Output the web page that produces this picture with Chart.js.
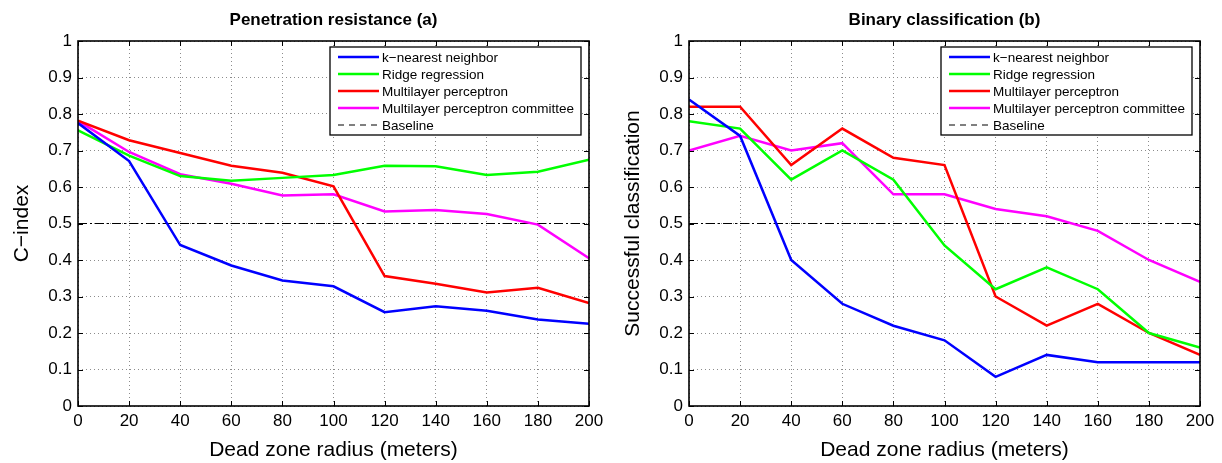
<!DOCTYPE html>
<html><head><meta charset="utf-8">
<script src="https://cdn.jsdelivr.net/npm/chart.js@4"></script>
<style>
html,body{margin:0;padding:0;background:#fff;}
#wrap{display:flex;width:1222px;height:463px;}
.p{width:611px;height:463px;position:relative;}
</style></head><body>
<div id="wrap"><div class="p"><canvas id="c1" width="611" height="463"></canvas></div><div class="p"><canvas id="c2" width="611" height="463"></canvas></div></div>
<script>
const radii = [0,20,40,60,80,100,120,140,160,180,200];
const seriesNames = ["k\u2212nearest neighbor","Ridge regression","Multilayer perceptron","Multilayer perceptron committee"];
const seriesColors = ["#0000ff","#00ff00","#ff0000","#ff00ff"];
const baselineValue = 0.5;
const yTicks = [0,0.1,0.2,0.3,0.4,0.5,0.6,0.7,0.8,0.9,1];

// Panel (a) C-index
const aKnn   = [0.775,0.671,0.441,0.385,0.344,0.328,0.257,0.273,0.261,0.237,0.225];
const aRidge = [0.755,0.686,0.630,0.617,0.625,0.633,0.658,0.657,0.633,0.642,0.675];
const aMlp   = [0.782,0.728,0.693,0.658,0.639,0.602,0.356,0.335,0.311,0.324,0.282];
const aMlpc  = [0.781,0.696,0.635,0.609,0.577,0.580,0.533,0.537,0.526,0.497,0.405];

// Panel (b) Successful classification
const bKnn   = [0.84,0.74,0.40,0.28,0.22,0.18,0.08,0.14,0.12,0.12,0.12];
const bRidge = [0.78,0.76,0.62,0.70,0.62,0.44,0.32,0.38,0.32,0.20,0.16];
const bMlp   = [0.82,0.82,0.66,0.76,0.68,0.66,0.30,0.22,0.28,0.20,0.14];
const bMlpc  = [0.70,0.74,0.70,0.72,0.58,0.58,0.54,0.52,0.48,0.40,0.34];

const FONT = "'Liberation Sans', Arial, Helvetica, sans-serif";

const framePlugin = {
  id:'frame',
  afterDraw(chart, args, opts){
    const ctx = chart.ctx, a = chart.chartArea;
    const xs = chart.scales.x, ys = chart.scales.y;
    ctx.save();
    ctx.strokeStyle = '#000'; ctx.lineWidth = 1;
    radii.forEach(v=>{
      const px = Math.round(xs.getPixelForValue(v))+0.5;
      ctx.beginPath(); ctx.moveTo(px,a.bottom); ctx.lineTo(px,a.bottom-5);
      ctx.moveTo(px,a.top); ctx.lineTo(px,a.top+5); ctx.stroke();
    });
    yTicks.forEach(v=>{
      const py = Math.round(ys.getPixelForValue(v))+0.5;
      ctx.beginPath(); ctx.moveTo(a.left,py); ctx.lineTo(a.left+5,py);
      ctx.moveTo(a.right,py); ctx.lineTo(a.right-5,py); ctx.stroke();
    });
    ctx.lineWidth = 1.6;
    ctx.strokeRect(a.left, a.top, a.right-a.left, a.bottom-a.top);
    // title
    ctx.fillStyle = '#000';
    ctx.font = "bold 17px " + FONT;
    ctx.textAlign = 'center'; ctx.textBaseline = 'middle';
    ctx.fillText(opts.title, (a.left+a.right)/2, 20);
    // legend
    const ds = chart.data.datasets;
    const bw = 251, bh = 88;
    const bx = a.right - 8 - bw, by = a.top + 6;
    ctx.fillStyle = '#fff';
    ctx.fillRect(bx,by,bw,bh);
    ctx.lineWidth = 1.3; ctx.strokeStyle = '#000';
    ctx.strokeRect(bx,by,bw,bh);
    ctx.font = "13.5px " + FONT;
    ctx.textAlign = 'left';
    ds.forEach((d,i)=>{
      const y = by + 10 + i*17;
      ctx.beginPath();
      ctx.strokeStyle = d.borderColor;
      ctx.lineWidth = d.label==='Baseline' ? 1 : 2.5;
      ctx.setLineDash(d.label==='Baseline' ? [6,5] : []);
      ctx.moveTo(bx+8,y); ctx.lineTo(bx+49,y); ctx.stroke();
      ctx.setLineDash([]);
      ctx.fillStyle = '#000';
      ctx.fillText(d.label, bx+52, y+1);
    });
    ctx.restore();
  }
};

function makeChart(id, title, ylabel, vals){
  const datasets = vals.map((v,i)=>({
    label: seriesNames[i],
    data: radii.map((r,j)=>({x:r,y:v[j]})),
    borderColor: seriesColors[i], backgroundColor: seriesColors[i],
    borderWidth: 2.5, pointRadius: 0, tension: 0, order: 1
  }));
  datasets.push({
    label:'Baseline',
    data: [{x:radii[0],y:baselineValue},{x:radii[radii.length-1],y:baselineValue}],
    borderColor:'#000', backgroundColor:'#000', borderWidth:1,
    borderDash:[9,3,2,3], pointRadius:0, order: 5
  });
  new Chart(document.getElementById(id), {
    type:'line',
    data:{datasets},
    options:{
      responsive:false, animation:false,
      layout:{padding:{top:41,right:22,left:0,bottom:0}},
      plugins:{legend:{display:false}, tooltip:{enabled:false}, frame:{title}},
      scales:{
        x:{type:'linear', min:0, max:200,
          afterBuildTicks(s){ s.ticks = radii.map(v=>({value:v})); },
          afterFit(s){ s.height = 57; },
          grid:{color:'#8c8c8c', lineWidth:1, drawTicks:false},
          border:{display:false, dash:[1,3]},
          ticks:{color:'#000', font:{family:FONT,size:17}, padding:5, maxRotation:0},
          title:{display:true, text:'Dead zone radius (meters)', color:'#000', font:{family:FONT,size:21}, padding:{top:4,bottom:0}}
        },
        y:{min:0, max:1,
          afterBuildTicks(s){ s.ticks = yTicks.map(v=>({value:v})); },
          afterFit(s){ s.width = 78; },
          grid:{color:'#8c8c8c', lineWidth:1, drawTicks:false},
          border:{display:false, dash:[1,3]},
          ticks:{color:'#000', font:{family:FONT,size:17}, padding:6, callback:v=>String(Math.round(v*10)/10)},
          title:{display:true, text:ylabel, color:'#000', font:{family:FONT,size:21}, padding:{top:10,bottom:0}}
        }
      }
    },
    plugins:[framePlugin]
  });
}
makeChart('c1','Penetration resistance (a)','C\u2212index',[aKnn,aRidge,aMlp,aMlpc]);
makeChart('c2','Binary classification (b)','Successful classification',[bKnn,bRidge,bMlp,bMlpc]);
</script>
</body></html>
